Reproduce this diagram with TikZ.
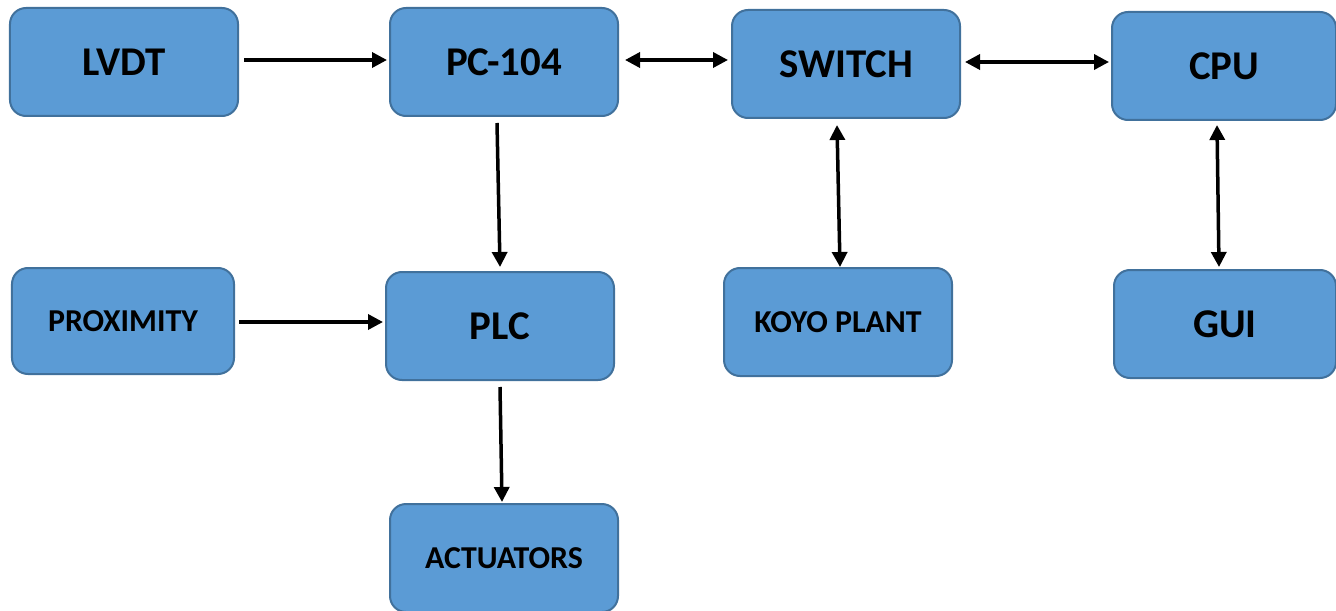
\documentclass[tikz,border=0pt]{standalone}
\usepackage{fontspec}
\setmainfont{Carlito}
\usetikzlibrary{arrows.meta}
\definecolor{boxfill}{HTML}{5B9BD5}
\definecolor{boxline}{HTML}{41719C}
\tikzset{
  blk/.style={draw=boxline, fill=boxfill, line width=2bp, rounded corners=16bp,
    minimum width=228bp, minimum height=108bp, inner sep=0pt, font=\bfseries\fontsize{41}{44}\selectfont},
  small/.style={font=\bfseries\fontsize{32}{35}\selectfont},
  arr/.style={line width=3.5bp, -{Triangle[length=15bp,width=15bp]}},
  darr/.style={line width=3.5bp, {Triangle[length=15bp,width=15bp]}-{Triangle[length=15bp,width=15bp]}}
}
\begin{document}
\begin{tikzpicture}[x=1bp,y=-1bp]
\useasboundingbox (0,0) rectangle (1336,611);
\node[blk] (lvdt) at (124,62) {LVDT};
\node[blk] (pc) at (504,62) {PC-104};
\node[blk] (sw) at (846,64) {SWITCH};
\node[blk, minimum width=224bp] (cpu) at (1224,66) {CPU};
\node[blk, small, minimum width=222bp, minimum height=106bp] (prox) at (123,321) {PROXIMITY};
\node[blk] (plc) at (500,326) {PLC};
\node[blk, small] (koyo) at (838,322) {KOYO PLANT};
\node[blk, minimum width=222bp] (gui) at (1225,324) {GUI};
\node[blk, small] (act) at (504,558) {ACTUATORS};
\draw[arr] ([shift={(5,-2)}]lvdt.east) -- ([shift={(-2,-2)}]pc.west);
\draw[darr] ([shift={(6,-2)}]pc.east) -- ([shift={(-3,-4)}]sw.west);
\draw[darr] ([shift={(4,-2)}]sw.east) -- ([shift={(-2,-4)}]cpu.west);
\draw[arr] ([shift={(-7,6)}]pc.south) -- ([shift={(0,-4)}]plc.north);
\draw[darr] ([shift={(-9,6)}]sw.south) -- ([shift={(2,0)}]koyo.north);
\draw[darr] ([shift={(-7,4)}]cpu.south) -- ([shift={(-6,-2)}]gui.north);
\draw[arr] ([shift={(4,1)}]prox.east) -- ([shift={(-2,-4)}]plc.west);
\draw[arr] ([shift={(0,6)}]plc.south) -- ([shift={(-2,-1)}]act.north);
\end{tikzpicture}
\end{document}
